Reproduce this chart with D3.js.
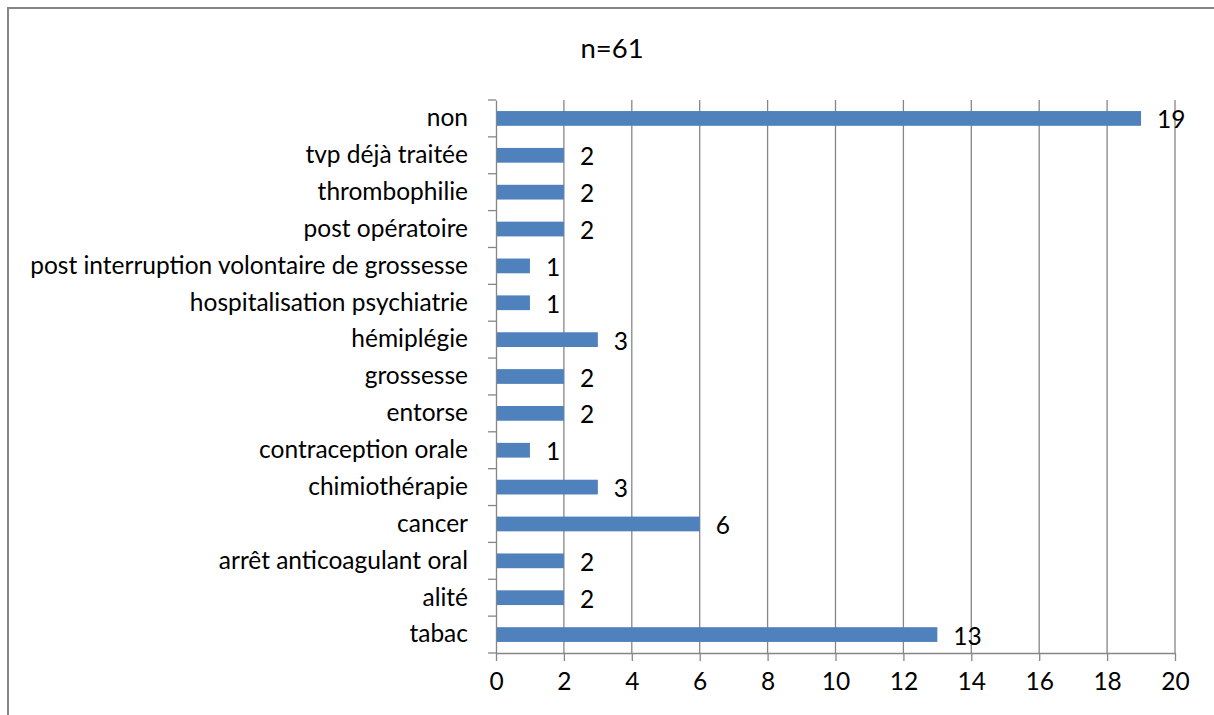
<!DOCTYPE html>
<html><head><meta charset="utf-8">
<script src="https://cdn.jsdelivr.net/npm/d3@7"></script>
<style>body{margin:0;background:#fff}svg{display:block}</style>
</head><body>
<svg id="c" width="1214" height="715"></svg>
<script>
const categories = ["tabac","alité","arrêt anticoagulant oral","cancer","chimiothérapie","contraception orale","entorse","grossesse","hémiplégie","hospitalisation psychiatrie","post interruption volontaire de grossesse","post opératoire","thrombophilie","tvp déjà traitée","non"];
const values = [13,2,2,6,3,1,2,2,3,1,1,2,2,2,19];
const xTicks = [0,2,4,6,8,10,12,14,16,18,20];
const title = "n=61";

const svg = d3.select("#c");
const font = "Lato, 'Open Sans', sans-serif";
const grid = "#868686";
const L = 496, R = 1175, T = 100, B = 653;
const fs = 24.5;

svg.append("rect").attr("x",8).attr("y",8).attr("width",1240).attr("height",760)
  .attr("fill","none").attr("stroke",grid).attr("stroke-width",2);

const x = d3.scaleLinear().domain([0,20]).range([L,R]);
const y = d3.scaleBand().domain(categories.slice().reverse()).range([T,B]).paddingInner(0.6).paddingOuter(0.3);
const yb = d3.scaleBand().domain(categories.slice().reverse()).range([T,B]);

svg.append("g").selectAll("line").data(xTicks.filter(d=>d>0)).join("line")
  .attr("x1",d=>x(d)).attr("x2",d=>x(d)).attr("y1",T).attr("y2",B)
  .attr("stroke",grid).attr("stroke-width",1.3);

const xa = svg.append("g").attr("transform",`translate(0,${B})`)
  .call(d3.axisBottom(x).tickValues(xTicks).tickSize(8).tickPadding(12).tickSizeOuter(0));
xa.select(".domain").attr("stroke",grid).attr("stroke-width",1.3);
xa.selectAll(".tick line").attr("stroke",grid).attr("stroke-width",1.3);
xa.selectAll("text").attr("font-family",font).attr("font-size",fs).attr("fill","#000");

const ya = svg.append("g").attr("transform",`translate(${L},0)`)
  .call(d3.axisLeft(yb).tickSize(0).tickPadding(28));
ya.select(".domain").attr("stroke",grid).attr("stroke-width",1.3);
ya.selectAll("text").attr("font-family",font).attr("font-size",fs).attr("fill","#000");
const bounds = d3.range(categories.length+1).map(i=>T + i*yb.step());
svg.append("g").selectAll("line").data(bounds).join("line")
  .attr("x1",L-8).attr("x2",L).attr("y1",d=>d).attr("y2",d=>d)
  .attr("stroke",grid).attr("stroke-width",1.3);

svg.append("g").selectAll("rect").data(categories).join("rect")
  .attr("x",L+1).attr("y",d=>y(d)).attr("height",y.bandwidth())
  .attr("width",(d,i)=>x(values[i])-L-1).attr("fill","#4F81BD");

svg.append("g").selectAll("text").data(categories).join("text")
  .attr("x",(d,i)=>x(values[i])+16).attr("y",d=>yb(d)+yb.bandwidth()/2+10)
  .attr("font-family",font).attr("font-size",fs).text((d,i)=>values[i]);

svg.append("text").attr("x",612).attr("y",58).attr("text-anchor","middle")
  .attr("font-family",font).attr("font-size",27.5).text(title);
</script>
</body></html>
